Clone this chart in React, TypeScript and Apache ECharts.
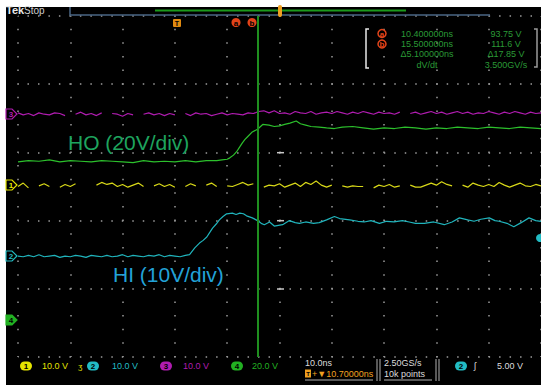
import React, { useEffect, useRef } from "react";
import * as echarts from "echarts";

// time axis in ns (10 ns/div, 10 divisions); vertical axis in screen divisions (0 = bottom)
const TIME_MIN = 0;
const TIME_MAX = 100;
const TIME_STEP = 10;
const DIV_MIN = 0;
const DIV_MAX = 5;
const CURSOR_B_NS = 45.8;

// Channel 3 (magenta) – [ns, div]
const ch3: (number | null)[][] = [
  [0,3.58],[1,3.55],[2,3.57],[3,3.54],[4,3.58],[5,3.56],[6,3.55],[7,3.58],[8,3.57],[9,3.54],[10,null],[11,3.56],[12,3.59],[13,3.55],[14,3.57],[15,3.54],[16,3.58],[17,null],[18,3.57],[19,3.56],[20,3.53],[21,3.57],[22,3.55],[23,null],[24,3.56],[25,3.58],[26,3.55],[27,3.57],[28,3.54],[29,3.57],[30,3.55],[31,null],[32,3.57],[33,3.54],[34,3.58],[35,3.56],[36,3.57],[37,3.54],[38,3.56],[39,3.58],[40,3.55],[41,3.57],[42,3.56],[43,3.55],[44,3.58],[45,3.57],[46,3.60],[47,3.61],[48,3.58],[49,3.61],[50,3.57],[51,3.58],[52,3.56],[53,3.60],[54,3.58],[55,3.57],[56,3.60],[57,3.56],[58,3.58],[59,3.59],[60,3.57],[61,3.60],[62,3.58],[63,3.56],[64,3.59],[65,3.57],[66,3.60],[67,3.58],[68,3.56],[69,3.59],[70,3.57],[71,3.58],[72,3.56],[73,3.59],[74,null],[75,3.57],[76,3.59],[77,3.56],[78,3.58],[79,3.60],[80,3.57],[81,3.59],[82,3.56],[83,3.58],[84,3.60],[85,3.57],[86,3.59],[87,3.56],[88,3.58],[89,3.57],[90,3.60],[91,3.58],[92,3.56],[93,3.59],[94,3.57],[95,3.60],[96,3.58],[97,3.56],[98,3.59],[99,3.57],[100,3.58]
];

// Channel 4 (green) – HO
const ch4HO: number[][] = [
  [0,2.86],[2,2.88],[4,2.87],[6,2.89],[8,2.86],[10,2.88],[12,2.87],[14,2.86],[16,2.88],[18,2.87],[20,2.86],[22,2.85],[24,2.88],[26,2.86],[28,2.87],[30,2.86],[32,2.88],[34,2.86],[36,2.88],[38,2.88],[39,2.89],[40,2.90],[40.5,2.92],[41.2,2.96],[41.8,3.01],[42.4,3.08],[42.9,3.14],[43.4,3.19],[43.9,3.23],[44.8,3.30],[45.8,3.34],[46.8,3.41],[48,3.40],[49,3.38],[50,3.39],[51,3.41],[52,3.43],[53.2,3.46],[54,3.42],[55,3.40],[56,3.38],[57.6,3.37],[59,3.36],[60.5,3.35],[62,3.37],[64,3.38],[66,3.36],[68,3.34],[70,3.36],[72,3.35],[74,3.37],[76,3.36],[78,3.34],[80,3.36],[82,3.35],[84,3.37],[86,3.36],[88,3.35],[90,3.37],[92,3.36],[94,3.35],[96,3.37],[98,3.36],[100,3.35]
];

// Channel 1 (yellow)
const ch1: (number | null)[][] = [
  [0,2.50],[1,2.55],[2,2.48],[3,null],[4,2.51],[5,2.54],[6,2.50],[7,null],[8,2.49],[9,2.53],[10,2.50],[11,2.54],[12,null],[13,null],[14,null],[15,2.52],[16,2.56],[17,2.53],[18,2.55],[19,2.50],[20,2.53],[21,2.49],[22,2.52],[23,2.55],[24,2.50],[25,null],[26,2.51],[27,2.54],[28,2.50],[29,2.53],[30,2.49],[31,null],[32,2.50],[33,2.54],[34,2.51],[35,null],[36,2.52],[37,2.55],[38,2.50],[39,null],[40,2.51],[41,2.50],[42,2.53],[43,2.56],[44,2.52],[45,2.54],[46,null],[47,2.49],[48,2.52],[49,2.51],[50,2.54],[51,2.49],[52,2.52],[53,2.55],[54,2.50],[55,2.56],[56,2.53],[57,2.58],[58,2.52],[59,2.49],[60,2.52],[61,null],[62,2.51],[63,2.49],[64,2.51],[65,2.50],[66,2.50],[67,null],[68,2.48],[69,2.52],[70,2.50],[71,2.53],[72,2.49],[73,2.51],[74,null],[75,2.52],[76,2.49],[77,2.49],[78,2.52],[79,2.55],[80,2.52],[81,2.57],[82,2.53],[83,2.51],[84,null],[85,2.52],[86,2.49],[87,2.55],[88,2.52],[89,2.50],[90,2.53],[91,2.50],[92,2.56],[93,2.52],[94,2.49],[95,2.52],[96,2.55],[97,2.51],[98,2.50],[99,2.53],[100,2.51]
];

// Channel 2 (cyan) – HI
const ch2HI: number[][] = [
  [0,1.48],[1,1.47],[2,1.49],[3,1.47],[4,1.50],[5,1.47],[6,1.48],[7,1.49],[8,1.46],[9,1.48],[10,1.47],[11,1.49],[12,1.48],[13,1.46],[14,1.49],[15,1.48],[16,1.47],[17,1.49],[18,1.47],[19,1.48],[20,1.50],[21,1.47],[22,1.49],[23,1.48],[24,1.47],[25,1.49],[26,1.48],[27,1.50],[28,1.47],[29,1.49],[30,1.48],[31,1.47],[32,1.49],[32.8,1.50],[33.8,1.60],[34.7,1.67],[35.4,1.71],[36.1,1.76],[36.7,1.83],[37.2,1.89],[37.9,1.95],[38.5,2.01],[39.2,2.06],[39.9,2.10],[41,2.11],[41.7,2.09],[42.4,2.11],[43.1,2.10],[43.7,2.07],[44.8,2.04],[45.8,2.00],[46.5,1.96],[47.1,1.94],[48.1,1.98],[49,1.92],[49.8,1.93],[50.6,1.94],[51.9,2.00],[53,1.97],[53.8,1.96],[55,1.98],[56.5,1.96],[57.6,1.97],[59,2.01],[60.5,2.06],[61.5,2.03],[63.4,2.01],[65,1.99],[66.2,1.98],[67.5,2.00],[69.1,1.96],[70.5,1.99],[71.9,1.98],[73.5,2.00],[74.8,1.98],[76,1.96],[77.7,1.96],[79.5,1.98],[81.5,1.94],[83,1.98],[84.4,2.04],[86,2.01],[87.2,1.99],[88.5,2.02],[90.1,2.04],[91.2,2.00],[92,1.99],[93.5,1.96],[94.8,1.91],[96.2,1.97],[97.7,2.04],[99,2.00],[100,1.99]
];

const readoutTimes = ["10.400000ns", "15.500000ns", "\u03945.100000ns", "dV/dt"];
const readoutValues = ["93.75 V", "111.6 V", "\u039417.85 V", "3.500GV/s"];
const chScales = ["10.0 V", "10.0 V", "10.0 V", "20.0 V"];

const FONT = "Liberation Sans, Arial, sans-serif";
const C_YEL = "#e4e400";
const C_CYAN = "#22bcc4";
const C_MAG = "#b01cb0";
const C_GRN = "#22b022";
const C_TXT = "#dcdcdc";
const C_ORG = "#f0a020";
const C_RED = "#e2441a";
const C_READ = "#2a9a36";

function txt(x: number, y: number, text: string, fill: string, size = 9, extra: any = {}) {
  return {
    type: "text",
    x,
    y,
    z: 20,
    silent: true,
    style: { text, fill, font: `${extra.weight || "normal"} ${size}px ${FONT}`, textAlign: extra.align || "left", textVerticalAlign: "middle" },
  };
}

function badge(x: number, y: number, label: string, fill: string) {
  return [
    { type: "rect", z: 20, shape: { x, y: y - 4.5, width: 12, height: 9, r: 4.5 }, style: { fill } },
    txt(x + 6, y + 0.5, label, "#000", 8, { align: "center", weight: "bold" }),
  ];
}

function chMarker(y: number, label: string, color: string, filled: boolean) {
  return [
    {
      type: "polygon",
      z: 20,
      shape: { points: [[6, y - 5], [12, y - 5], [17, y], [12, y + 5], [6, y + 5]] },
      style: { fill: filled ? color : "#000", stroke: color, lineWidth: 1.2 },
    },
    txt(11, y + 0.5, label, filled ? "#000" : color, 8, { align: "center", weight: "bold" }),
  ];
}

function buildGraphics() {
  const g: any[] = [];
  g.push({ type: "rect", z: -10, shape: { x: 6, y: 7, width: 535, height: 378 }, style: { fill: "#000" } });
  // Tek Stop
  g.push(txt(6, 10, "Tek", "#e8e8e8", 11, { weight: "bold" }));
  g.push(txt(24, 10, "Stop", "#d0d0d0", 10));
  // record timeline
  g.push({ type: "polyline", z: 20, shape: { points: [[70, 7], [70, 15], [490, 15]] }, style: { stroke: "#4a6684", lineWidth: 1.5, fill: null } });
  g.push({ type: "line", z: 20, shape: { x1: 155, y1: 10.5, x2: 406, y2: 10.5 }, style: { stroke: "#1c9a1c", lineWidth: 2 } });
  g.push({ type: "rect", z: 21, shape: { x: 278, y: 5, width: 4, height: 12, r: 2 }, style: { fill: C_ORG } });
  // trigger T marker, cursor a/b markers
  g.push({ type: "rect", z: 20, shape: { x: 173, y: 19, width: 8, height: 8, r: 1 }, style: { fill: "#e08a10" } });
  g.push(txt(177, 23.5, "T", "#000", 7, { align: "center", weight: "bold" }));
  g.push({ type: "circle", z: 20, shape: { cx: 236, cy: 22.5, r: 4.5 }, style: { fill: C_RED } });
  g.push(txt(236, 23, "a", "#000", 8, { align: "center", weight: "bold" }));
  g.push({ type: "circle", z: 20, shape: { cx: 252, cy: 22.5, r: 4.5 }, style: { fill: C_RED } });
  g.push(txt(252, 23, "b", "#000", 8, { align: "center", weight: "bold" }));
  // readout box
  g.push({ type: "polyline", z: 20, shape: { points: [[369, 29], [366, 29], [366, 68], [369, 68]] }, style: { stroke: "#e8e8e8", lineWidth: 1.5, fill: null } });
  g.push({ type: "polyline", z: 20, shape: { points: [[534, 29], [537, 29], [537, 67], [534, 67]] }, style: { stroke: "#9a9a9a", lineWidth: 1.5, fill: null } });
  ["a", "b"].forEach((l, i) => {
    const cy = 33.5 + i * 10.5;
    g.push({ type: "circle", z: 20, shape: { cx: 382, cy, r: 4 }, style: { fill: "#000", stroke: C_RED, lineWidth: 1.5 } });
    g.push(txt(382, cy + 0.5, l, C_RED, 8, { align: "center", weight: "bold" }));
  });
  readoutTimes.forEach((t, i) => g.push(txt(427, 34 + i * 10.2, t, C_READ, 9, { align: "center" })));
  readoutValues.forEach((t, i) => g.push(txt(506, 34 + i * 10.2, t, C_READ, 9, { align: "center" })));
  // center marks
  [152.7, 220.7, 289].forEach((y) =>
    g.push({ type: "line", z: 5, shape: { x1: 277, y1: y, x2: 284, y2: y }, style: { stroke: "#c8c8c8", lineWidth: 1.5 } })
  );
  // channel ground markers
  g.push(...chMarker(114, "3", C_MAG, false));
  g.push(...chMarker(185, "1", C_YEL, false));
  g.push(...chMarker(256, "2", C_CYAN, false));
  g.push(...chMarker(320, "4", C_GRN, true));
  // trigger level
  g.push({ type: "circle", z: 20, shape: { cx: 540, cy: 238, r: 4 }, style: { fill: C_CYAN } });
  // annotations
  g.push(txt(68, 142, "HO (20V/div)", "#1ea45e", 21));
  g.push(txt(113, 274, "HI (10V/div)", "#22a2d8", 21));
  // bottom status bar
  const by = 366;
  g.push(...badge(20, by, "1", C_YEL));
  g.push(txt(42, by, chScales[0], C_YEL));
  g.push(txt(78, by, "\u0292", C_YEL, 8));
  g.push(...badge(87, by, "2", C_CYAN));
  g.push(txt(112, by, chScales[1], C_CYAN));
  g.push(...badge(160, by, "3", C_MAG));
  g.push(txt(183, by, chScales[2], C_MAG));
  g.push(...badge(231, by, "4", C_GRN));
  g.push(txt(252, by, chScales[3], C_GRN));
  g.push(txt(305, 363, "10.0ns", C_TXT));
  g.push({ type: "rect", z: 20, shape: { x: 305, y: 369.5, width: 6, height: 8 }, style: { fill: C_ORG } });
  g.push(txt(308, 374, "T", "#000", 6, { align: "center", weight: "bold" }));
  g.push(txt(312, 374, "+\u25BC10.70000ns", C_ORG));
  g.push({ type: "line", z: 20, shape: { x1: 305, y1: 380, x2: 373, y2: 380 }, style: { stroke: "#b0b0b0", lineWidth: 1 } });
  [377, 380, 436, 439].forEach((x) =>
    g.push({ type: "line", z: 20, shape: { x1: x, y1: 359, x2: x, y2: 381 }, style: { stroke: "#b0b0b0", lineWidth: 1 } })
  );
  g.push(txt(384, 363, "2.50GS/s", C_TXT));
  g.push(txt(384, 374, "10k points", C_TXT));
  g.push({ type: "line", z: 20, shape: { x1: 384, y1: 380, x2: 432, y2: 380 }, style: { stroke: "#b0b0b0", lineWidth: 1 } });
  g.push(...badge(455, by, "2", C_CYAN));
  g.push(txt(474, by, "\u0283", C_TXT, 9));
  g.push(txt(497, by, "5.00 V", C_TXT));
  return g;
}

function trace(name: string, data: any[], color: string, width = 1.2) {
  return {
    name,
    type: "line",
    data,
    showSymbol: false,
    connectNulls: false,
    silent: true,
    z: 3,
    lineStyle: { color, width },
  };
}

export default function App() {
  const ref = useRef<HTMLDivElement>(null);
  useEffect(() => {
    document.body.style.margin = "0";
    const chart = echarts.init(ref.current!, null, { renderer: "svg" });
    chart.setOption({
      animation: false,
      backgroundColor: "#ffffff",
      grid: { left: 18, top: 16, width: 524, height: 341, containLabel: false },
      xAxis: {
        type: "value",
        min: TIME_MIN,
        max: TIME_MAX,
        interval: TIME_STEP,
        axisLine: { show: false },
        axisTick: { show: false },
        axisLabel: { show: false },
        splitLine: { show: true, lineStyle: { color: "#9c9c9c", width: 1.5, type: [1.5, 12.14], dashOffset: 0.75 } },
      },
      yAxis: {
        type: "value",
        min: DIV_MIN,
        max: DIV_MAX,
        interval: 1,
        axisLine: { show: false },
        axisTick: { show: false },
        axisLabel: { show: false },
        splitLine: { show: true, lineStyle: { color: "#9c9c9c", width: 1.5, type: [1.5, 8.98], dashOffset: 0.75 } },
      },
      series: [
        trace("CH3", ch3, C_MAG),
        trace("HO", ch4HO, "#2cc02c"),
        trace("CH1", ch1, "#d8d818"),
        trace("HI", ch2HI, "#20b4bc"),
        {
          name: "cursor",
          type: "line",
          data: [],
          z: 6,
          markLine: {
            silent: true,
            symbol: ["none", "none"],
            label: { show: false },
            lineStyle: { color: "#1f8f1f", width: 2, type: "solid" },
            data: [{ xAxis: CURSOR_B_NS }],
          },
        },
      ],
      graphic: buildGraphics(),
    });
    return () => chart.dispose();
  }, []);
  return <div ref={ref} style={{ width: 541, height: 390 }} />;
}
